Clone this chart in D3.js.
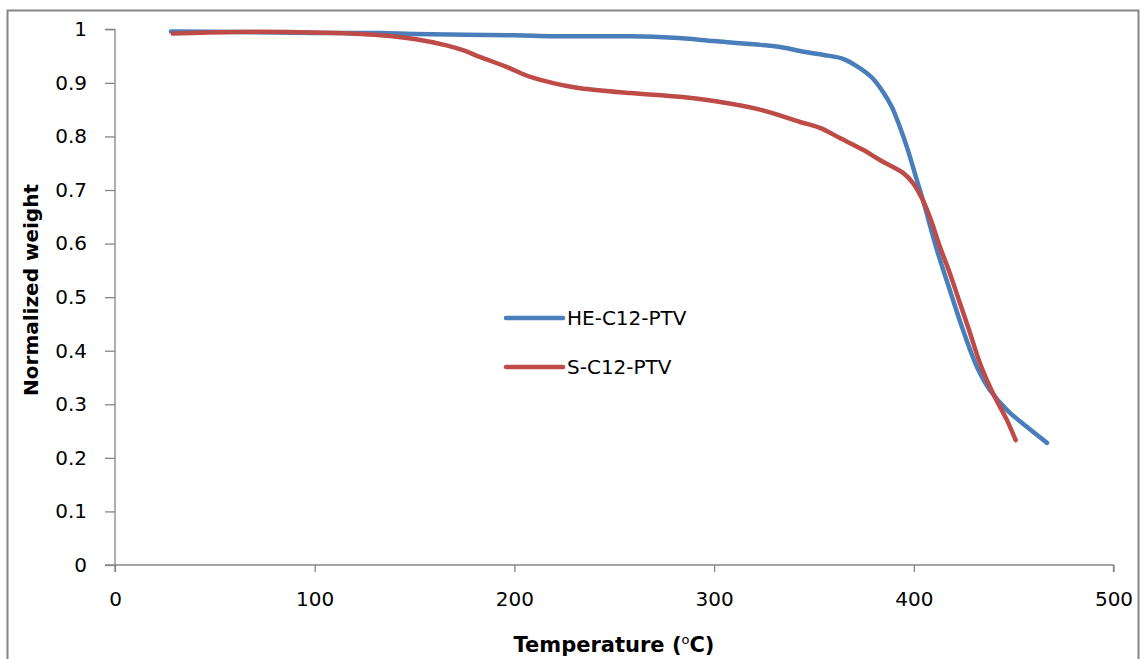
<!DOCTYPE html>
<html><head><meta charset="utf-8">
<script src="https://cdn.jsdelivr.net/npm/d3@7"></script>
<style>body{margin:0;background:#fff}svg{display:block}</style>
</head><body>
<script>
const seriesNames = ["HE-C12-PTV", "S-C12-PTV"];
const heTemp = [28, 60, 100, 133, 150, 200, 220, 258, 280, 300, 320, 333, 345, 355, 364.5, 372, 379, 384.6, 389, 393, 397, 401, 404.6, 411.6, 418.5, 424.6, 431.6, 438, 446.7, 456.6, 466.7];
const heWeight = [0.996, 0.995, 0.993, 0.993, 0.991, 0.989, 0.987, 0.987, 0.984, 0.978, 0.972, 0.967, 0.958, 0.952, 0.945, 0.93, 0.91, 0.883, 0.855, 0.818, 0.775, 0.725, 0.681, 0.588, 0.508, 0.439, 0.37, 0.327, 0.289, 0.258, 0.228];
const sTemp = [29, 60, 100, 133, 150, 166, 175, 183, 196, 208, 219, 233, 258, 283, 300, 323, 343, 353, 363, 374.6, 383, 394.6, 399.6, 404, 408, 413, 418, 423, 428, 433, 439.7, 446.7, 451];
const sWeight = [0.992, 0.995, 0.994, 0.989, 0.982, 0.970, 0.960, 0.948, 0.930, 0.911, 0.900, 0.89, 0.881, 0.874, 0.866, 0.85, 0.827, 0.816, 0.797, 0.775, 0.756, 0.732, 0.713, 0.685, 0.65, 0.595, 0.545, 0.49, 0.435, 0.378, 0.32, 0.27, 0.233];
const xTicks = [0, 100, 200, 300, 400, 500];
const yTicks = [0, 0.1, 0.2, 0.3, 0.4, 0.5, 0.6, 0.7, 0.8, 0.9, 1];
const colors = ["#4a7ebb", "#be4b48"];

const W = 1143, H = 659;
const svg = d3.select("body").append("svg").attr("width", W).attr("height", H);
svg.append("rect").attr("x", 7.5).attr("y", 10.5).attr("width", 1131).attr("height", 660)
  .attr("fill", "#fff").attr("stroke", "#868686").attr("stroke-width", 2);

const x = d3.scaleLinear().domain([0, 500]).range([115, 1113.5]);
const y = d3.scaleLinear().domain([0, 1]).range([565, 29.3]);
const font = "DejaVu Sans, Verdana, sans-serif";

const gx = svg.append("g").attr("transform", "translate(0,565)")
  .call(d3.axisBottom(x).tickValues(xTicks).tickSize(7).tickPadding(20).tickFormat(d3.format("d")));
const gy = svg.append("g").attr("transform", "translate(115,0)")
  .call(d3.axisLeft(y).tickValues(yTicks).tickSize(10).tickPadding(18).tickFormat(d => d === 0 || d === 1 ? String(d) : d3.format(".1f")(d)));
[gx, gy].forEach(g => {
  g.selectAll("path, line").attr("stroke", "#868686").attr("stroke-width", 1.3);
  g.selectAll("text").attr("font-family", font).attr("font-size", 20).attr("fill", "#000");
});
gx.select(".domain").attr("d", "M115,7V0H1113.5V7");
gy.select(".domain").attr("d", "M-10,29.3H0V565H-10");

const line = d3.line().x(d => x(d[0])).y(d => y(d[1])).curve(d3.curveCatmullRom.alpha(0.5));
const heData = heTemp.map((t, i) => [t, heWeight[i]]);
const sData = sTemp.map((t, i) => [t, sWeight[i]]);
[heData, sData].forEach((dat, i) => {
  svg.append("path").datum(dat).attr("d", line).attr("fill", "none")
    .attr("stroke", colors[i]).attr("stroke-width", 4.5).attr("stroke-linecap", "round").attr("stroke-linejoin", "round");
});

// legend
seriesNames.forEach((name, i) => {
  const ly = 318 + i * 49;
  svg.append("line").attr("x1", 506).attr("x2", 563).attr("y1", ly).attr("y2", ly)
    .attr("stroke", colors[i]).attr("stroke-width", 4.5).attr("stroke-linecap", "round");
  svg.append("text").attr("x", 567).attr("y", ly + 7).attr("font-family", font).attr("font-size", 20).text(name);
});

svg.append("text").attr("x", 614).attr("y", 652).attr("text-anchor", "middle")
  .attr("font-family", font).attr("font-size", 21).attr("font-weight", "bold")
  .html('Temperature (<tspan font-weight="normal" font-size="13" dy="-8">o</tspan><tspan dy="8">C)</tspan>');
svg.append("text").attr("transform", "translate(38,290) rotate(-90)").attr("text-anchor", "middle")
  .attr("font-family", font).attr("font-size", 20).attr("font-weight", "bold").text("Normalized weight");
</script>
</body></html>
